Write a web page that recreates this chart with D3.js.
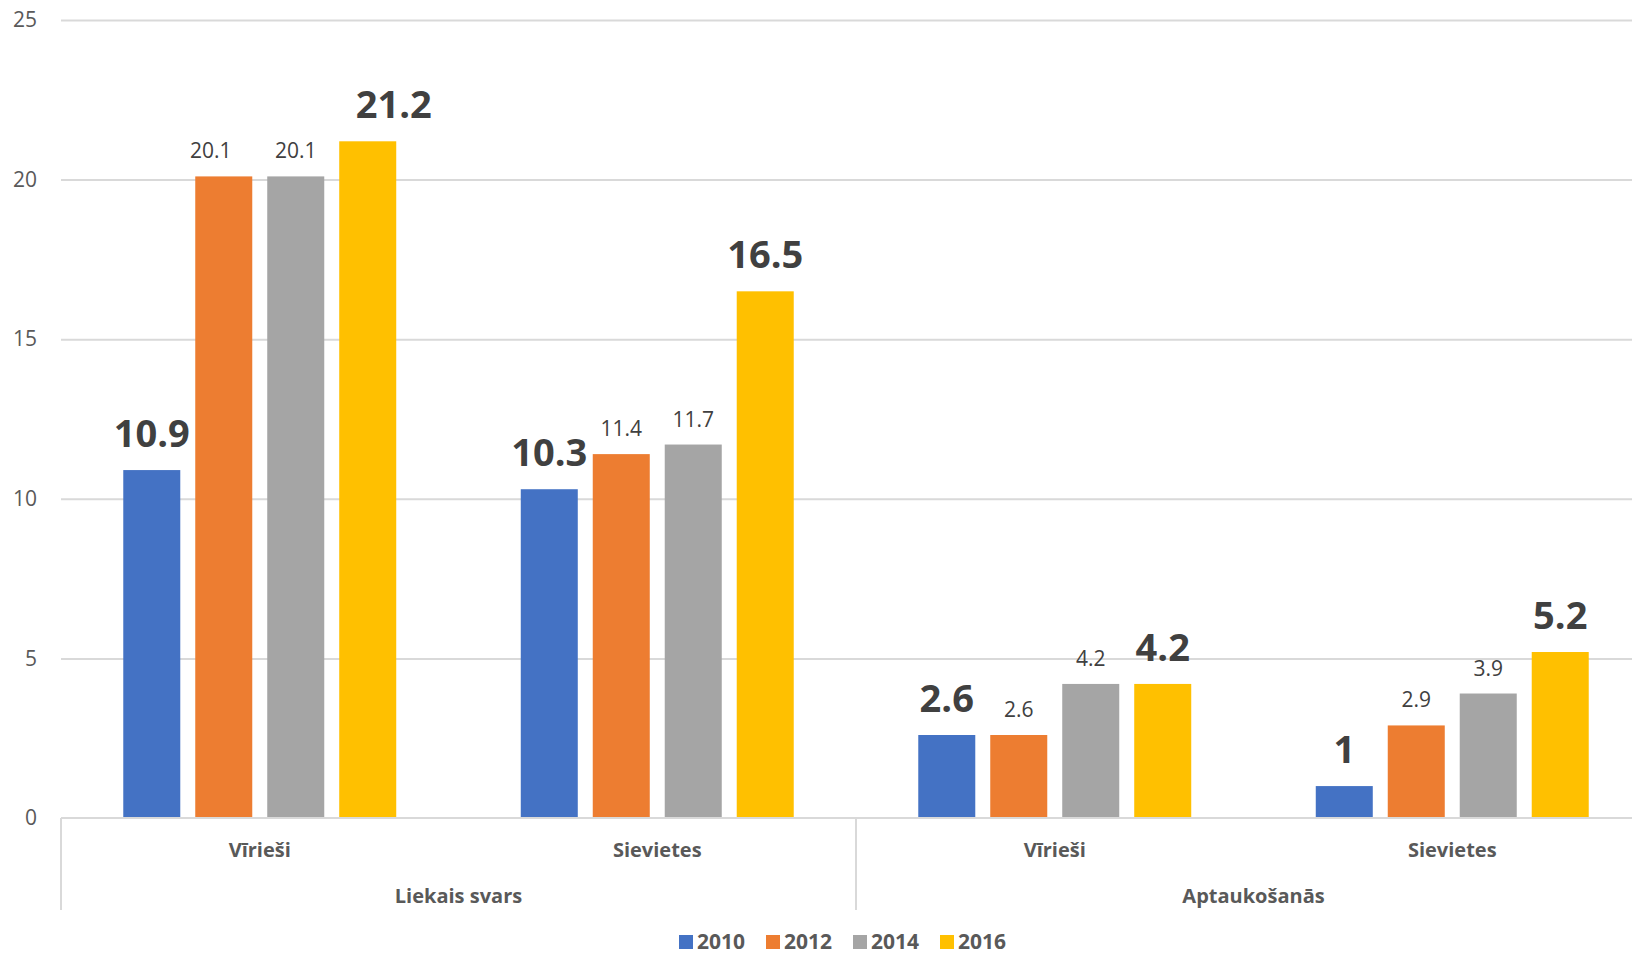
<!DOCTYPE html>
<html>
<head>
<meta charset="utf-8">
<script src="https://cdn.jsdelivr.net/npm/d3@7"></script>
<style>
  body { margin: 0; background: #fff; }
  text { font-family: "Open Sans", sans-serif; }
</style>
</head>
<body>
<div class="chart"></div>
<script>
/* chart data */
const groups = ["Liekais svars", "Aptaukošanās"];
const sexes = ["Vīrieši", "Sievietes"];
const years = ["2010", "2012", "2014", "2016"];
const values2010 = [10.9, 10.3, 2.6, 1];
const values2012 = [20.1, 11.4, 2.6, 2.9];
const values2014 = [20.1, 11.7, 4.2, 3.9];
const values2016 = [21.2, 16.5, 4.2, 5.2];
const yTicks = [0, 5, 10, 15, 20, 25];

const series = [values2010, values2012, values2014, values2016];
const colors = ["#4472C4", "#ED7D31", "#A5A5A5", "#FFC000"];
const boldYears = ["2010", "2016"];
// a couple of labels were dragged sideways in the original chart
const labelNudge = {"2012|0": -13, "2016|0": 26};

/* one entry per bar cluster: group x sex */
const cats = [];
groups.forEach(g => sexes.forEach(s => cats.push({group: g, sex: s, key: g + "|" + s})));

const width = 1632;
const height = 956;
const plotLeft = 61, plotRight = 1651, plotBase = 818, plotTop = 20;

const svg = d3.select(".chart").append("svg")
  .attr("width", width)
  .attr("height", height);

/* scales */
const x0 = d3.scaleBand()
  .domain(cats.map(d => d.key))
  .range([plotLeft, plotRight]);

const x1 = d3.scaleBand()
  .domain(years)
  .range([0, x0.bandwidth()])
  .paddingInner(0.208)
  .paddingOuter(0.865);

const y = d3.scaleLinear()
  .domain([0, 25])
  .range([plotBase, plotTop]);

/* gridlines */
svg.append("g")
  .attr("transform", `translate(${plotLeft},0)`)
  .call(d3.axisLeft(y).tickValues(yTicks.filter(t => t > 0)).tickSize(-(width - plotLeft)).tickFormat(""))
  .call(g => g.select(".domain").remove())
  .call(g => g.selectAll("line").attr("stroke", "#d9d9d9").attr("stroke-width", 2));

/* y tick labels */
svg.append("g")
  .attr("transform", `translate(${plotLeft},0)`)
  .call(d3.axisLeft(y).tickValues(yTicks).tickSize(0).tickPadding(24))
  .call(g => g.select(".domain").remove())
  .call(g => g.selectAll("text")
    .attr("fill", "#595959")
    .style("font-size", "21px"));

/* bars */
const bars = [];
series.forEach((vals, i) => vals.forEach((v, j) => bars.push({year: years[i], i: i, j: j, cat: cats[j].key, value: v})));

svg.append("g")
  .selectAll("rect")
  .data(bars)
  .join("rect")
    .attr("x", d => x0(d.cat) + x1(d.year))
    .attr("y", d => y(d.value))
    .attr("width", x1.bandwidth())
    .attr("height", d => y(0) - y(d.value))
    .attr("fill", d => colors[d.i]);

/* data labels */
svg.append("g")
  .selectAll("text")
  .data(bars)
  .join("text")
    .attr("x", d => x0(d.cat) + x1(d.year) + x1.bandwidth() / 2 + (labelNudge[d.year + "|" + d.j] || 0))
    .attr("y", d => y(d.value) - (boldYears.includes(d.year) ? 23 : 18))
    .attr("text-anchor", "middle")
    .attr("fill", "#404040")
    .style("font-size", d => boldYears.includes(d.year) ? "38px" : "21px")
    .style("font-weight", d => boldYears.includes(d.year) ? "bold" : "normal")
    .text(d => d.value);

/* baseline */
svg.append("line")
  .attr("x1", plotLeft).attr("x2", width)
  .attr("y1", y(0)).attr("y2", y(0))
  .attr("stroke", "#d9d9d9").attr("stroke-width", 2);

/* category separators */
const sepX = [plotLeft, x0(cats[2].key), plotRight];
svg.append("g")
  .selectAll("line")
  .data(sepX)
  .join("line")
    .attr("x1", d => d).attr("x2", d => d)
    .attr("y1", y(0)).attr("y2", 910)
    .attr("stroke", "#d9d9d9").attr("stroke-width", 2);

/* sex labels */
svg.append("g")
  .selectAll("text")
  .data(cats)
  .join("text")
    .attr("x", d => x0(d.key) + x0.bandwidth() / 2)
    .attr("y", 857)
    .attr("text-anchor", "middle")
    .attr("fill", "#595959")
    .style("font-size", "20px")
    .style("font-weight", "bold")
    .text(d => d.sex);

/* group labels */
svg.append("g")
  .selectAll("text")
  .data(groups)
  .join("text")
    .attr("x", (d, i) => x0(cats[i * 2].key) + x0.bandwidth())
    .attr("y", 903)
    .attr("text-anchor", "middle")
    .attr("fill", "#595959")
    .style("font-size", "20px")
    .style("font-weight", "bold")
    .text(d => d);

/* legend */
const legend = svg.append("g")
  .selectAll("g")
  .data(years)
  .join("g")
    .attr("transform", (d, i) => `translate(${679 + i * 87},935)`);

legend.append("rect")
  .attr("width", 14).attr("height", 14)
  .attr("fill", (d, i) => colors[i]);

legend.append("text")
  .attr("x", 18)
  .attr("y", 14)
  .attr("fill", "#595959")
  .style("font-size", "21px")
  .style("font-weight", "bold")
  .text(d => d);
</script>
</body>
</html>
